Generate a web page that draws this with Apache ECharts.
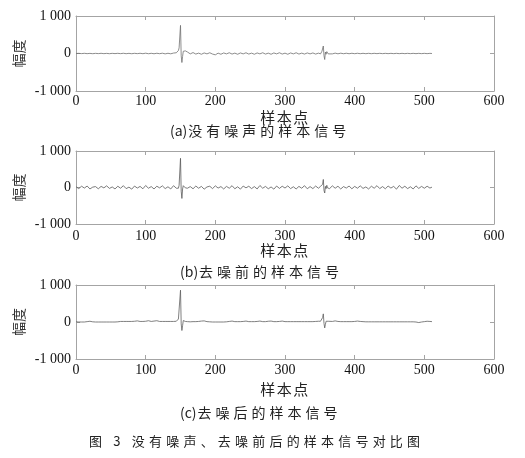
<!DOCTYPE html>
<html>
<head>
<meta charset="utf-8">
<script src="https://cdn.jsdelivr.net/npm/echarts@6/dist/echarts.min.js"></script>
<style>html,body{margin:0;padding:0;background:#fff;}#main{width:525px;height:458px;}</style>
</head>
<body>
<div id="main"></div>
<script>
// ---- data ----
const sampleX = [0,4,8,12,16,20,24,28,32,36,40,44,48,52,56,60,64,68,72,76,80,84,88,92,96,100,104,108,112,116,120,124,128,132,136,140,144,
146,147,148,149,150,151,152,153,154,155,156,157,158,160,
164,168,172,176,180,184,188,192,196,200,204,208,212,216,220,224,228,232,236,240,244,248,252,256,260,264,268,272,276,280,284,288,292,296,300,304,308,312,316,320,324,328,332,336,340,344,348,
351,352,353,354,355,356,357,358,359,360,361,362,
364,368,372,376,380,384,388,392,396,400,404,408,412,416,420,424,428,432,436,440,444,448,452,456,460,464,468,472,476,480,484,488,492,496,500,504,508,511];

const cleanSignal = [0,4,-3,5,-4,3,-5,4,-3,5,-4,3,-5,4,-3,5,-4,6,-5,4,-6,5,-4,6,-5,8,-6,5,-7,6,-5,8,-10,6,-8,12,20,
40,80,150,120,750,-60,-240,-80,60,90,30,70,20,40,
-10,25,-15,10,-20,15,-10,20,-15,-35,10,-20,15,-10,20,-15,10,-20,15,-10,20,-15,10,-20,15,-10,20,-15,10,-20,15,-10,20,-15,10,-20,15,-10,20,-15,10,-15,15,-10,15,-15,10,
-10,30,60,100,200,-60,-160,40,-20,50,20,-10,
15,-10,10,-8,8,-6,7,-6,6,-5,6,-5,5,-5,5,-5,5,-4,5,-4,4,-4,4,-4,4,-4,4,-4,4,-4,4,-4,4,-4,4,-4,4,0];

const noisySignal = [20,-30,35,-15,40,-40,10,25,-35,30,-10,45,-25,15,-40,35,-20,50,-30,10,-45,40,-15,30,-35,55,-20,25,-40,35,-10,45,-30,20,-40,50,-20,
30,-20,60,100,800,-100,-300,-40,50,20,60,-10,30,-20,
25,-35,40,-20,30,-45,15,35,-30,45,-15,25,-40,30,-20,50,-35,20,-45,40,-10,35,-30,25,-40,55,-20,30,-35,15,-45,40,-25,35,-15,45,-30,20,-40,30,-20,50,-35,25,-30,40,-20,
30,-20,50,90,220,-80,-150,30,-30,60,-10,40,
-30,45,-20,35,-40,25,-15,40,-35,30,-20,45,-25,15,-40,35,-20,50,-30,25,-35,40,-15,30,-45,55,-20,35,-30,20,-40,45,-25,30,-20,35,-15,10];

const denoisedSignal = [5,0,0,0,10,20,5,0,0,0,0,0,0,0,0,5,15,15,15,15,15,20,30,15,15,20,35,15,25,35,15,15,15,15,15,15,20,
40,80,120,80,860,-50,-230,-100,40,60,20,15,10,10,
5,10,10,15,25,30,10,5,0,0,0,0,0,5,15,25,10,10,10,15,25,10,10,10,15,25,10,10,20,25,10,10,15,25,10,10,10,10,10,10,10,10,10,10,10,15,20,
20,40,70,120,220,-40,-160,-60,20,50,30,20,
10,15,30,15,10,10,10,10,10,15,25,15,10,5,5,5,5,5,5,5,5,5,5,5,5,5,5,5,5,5,5,0,-15,0,10,20,15,10];

const yTickLabels = {'-1000':'-1 000','0':'0','1000':'1 000'};
const xAxisName = '样本点';
const yAxisName = '幅度';
const panelCaptions = ['(a)没有噪声的样本信号','(b)去噪前的样本信号','(c)去噪后的样本信号'];
const figureCaption = '图 3 没有噪声、去噪前后的样本信号对比图';

// ---- letter spacing for captions only (isolated with save/restore) ----
const spacedTexts = {};
panelCaptions.forEach(t => spacedTexts[t] = {sp: 4, prefix: 3});
spacedTexts[figureCaption] = {sp: 4.2, prefix: 0};
spacedTexts[xAxisName] = {sp: 1.5, prefix: 0};
const origFill = CanvasRenderingContext2D.prototype.fillText;
CanvasRenderingContext2D.prototype.fillText = function(t, x, y, w) {
  const cfg = spacedTexts[t];
  if (cfg && 'letterSpacing' in this) {
    const font = this.font;
    let cx = x;
    if (cfg.prefix > 0 && this.textAlign === 'left') {
      const pre = t.slice(0, cfg.prefix);
      origFill.call(this, pre, cx, y);
      cx += this.measureText(pre).width + 1;
      t = t.slice(cfg.prefix);
    }
    this.save();
    this.letterSpacing = cfg.sp + 'px';
    this.font = font;
    origFill.call(this, t, cx, y);
    this.restore();
    this.letterSpacing = '0px';
    this.font = font;
  } else {
    if (w === undefined) origFill.call(this, t, x, y); else origFill.call(this, t, x, y, w);
  }
};

// ---- layout ----
const grids = [
  {left: 76, width: 418, top: 16, height: 75},
  {left: 76, width: 418, top: 151, height: 73},
  {left: 76, width: 418, top: 285, height: 74}
];
const labelMargins = [3, 5, 4];
const frameColor = '#a4a4a4';
const serif = 'Liberation Serif';
const cjk = '"Noto Sans CJK SC"';
const signals = [cleanSignal, noisySignal, denoisedSignal];
const lineColors = ['#707070', '#5a5a5a', '#606060'];

const xAxes = [], yAxes = [], series = [];
grids.forEach((g, i) => {
  const common = {
    gridIndex: i, type: 'value', min: 0, max: 600, interval: 100,
    axisLine: {show: true, onZero: false, lineStyle: {color: frameColor, width: 1}},
    axisTick: {show: true, inside: true, length: 4, lineStyle: {color: frameColor}},
    splitLine: {show: false}
  };
  xAxes.push(Object.assign({}, common, {
    position: 'bottom',
    axisLabel: {show: true, margin: labelMargins[i], color: '#111', fontFamily: serif, fontSize: 14, showMinLabel: true, showMaxLabel: true}
  }));
  xAxes.push(Object.assign({}, common, {position: 'top', axisLabel: {show: false}}));
  const ycommon = {
    gridIndex: i, type: 'value', min: -1000, max: 1000, interval: 1000,
    axisLine: {show: true, onZero: false, lineStyle: {color: frameColor, width: 1}},
    axisTick: {show: true, inside: true, length: 4, lineStyle: {color: frameColor}},
    splitLine: {show: false}
  };
  yAxes.push(Object.assign({}, ycommon, {
    position: 'left',
    axisLabel: {show: true, margin: 5, color: '#111', fontFamily: serif, fontSize: 14,
      formatter: v => yTickLabels[String(v)] !== undefined ? yTickLabels[String(v)] : String(v)}
  }));
  yAxes.push(Object.assign({}, ycommon, {position: 'right', axisLabel: {show: false}}));
  series.push({
    type: 'line', xAxisIndex: i * 2, yAxisIndex: i * 2,
    data: sampleX.map((x, k) => [x, signals[i][k]]),
    showSymbol: false, symbol: 'none', smooth: false,
    lineStyle: {color: lineColors[i], width: 0.8},
    silent: true, animation: false
  });
});

const nameY = [117, 250, 389];
const captionY = [131, 272, 413];
const captionX = [170, 180, 180];
const graphic = [];
grids.forEach((g, i) => {
  graphic.push({type: 'text', x: g.left + g.width / 2, y: nameY[i],
    style: {text: xAxisName, font: '15px ' + cjk, fill: '#222', align: 'center', verticalAlign: 'middle'}});
  graphic.push({type: 'text', x: 19, y: g.top + g.height / 2, rotation: Math.PI / 2,
    style: {text: yAxisName, font: '14px ' + cjk, fill: '#333', align: 'center', verticalAlign: 'middle'}});
  graphic.push({type: 'text', x: captionX[i], y: captionY[i],
    style: {text: panelCaptions[i], font: '14px ' + cjk, fill: '#222', align: 'left', verticalAlign: 'middle'}});
});
graphic.push({type: 'text', x: 89, y: 441,
  style: {text: figureCaption, font: '13px ' + cjk, fill: '#222', align: 'left', verticalAlign: 'middle'}});

const chart = echarts.init(document.getElementById('main'), null, {renderer: 'canvas'});
chart.setOption({
  animation: false,
  backgroundColor: '#fff',
  grid: grids.map(g => Object.assign({containLabel: false, show: false}, g)),
  xAxis: xAxes,
  yAxis: yAxes,
  series: series,
  graphic: graphic
});
</script>
</body>
</html>
